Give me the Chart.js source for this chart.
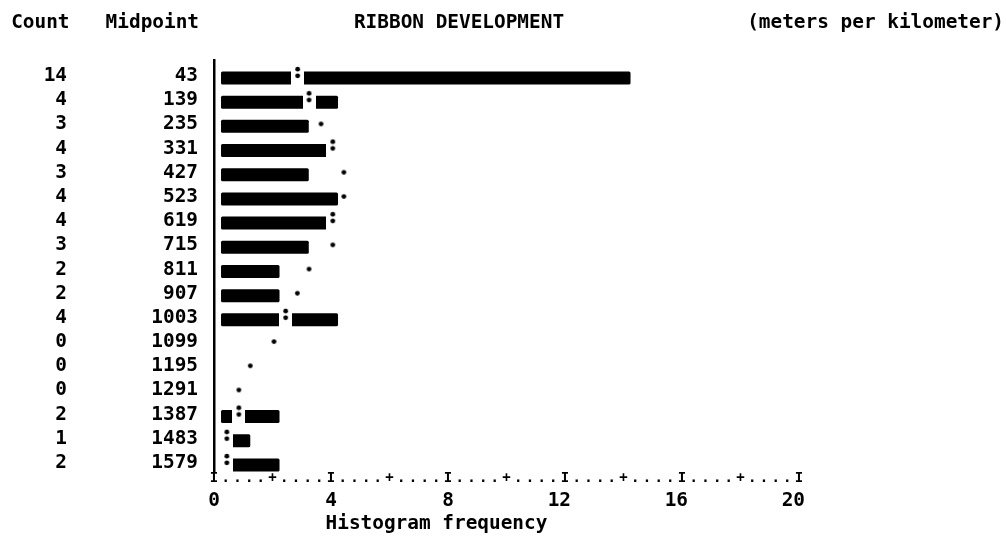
<!DOCTYPE html>
<html>
<head>
<meta charset="utf-8">
<title>Ribbon development histogram</title>
<script src="https://cdn.jsdelivr.net/npm/chart.js@4/dist/chart.umd.min.js"></script>
<style>
  html, body { margin: 0; padding: 0; background: #fff; }
  #wrap { width: 1006px; height: 541px; }
  canvas { display: block; }
</style>
</head>
<body>
<div id="wrap"><canvas id="chart" width="1006" height="541"></canvas></div>
<script>
// Histogram classes (midpoints, meters per kilometer) and their counts
const midpoints = ['43', '139', '235', '331', '427', '523', '619', '715', '811',
                   '907', '1003', '1099', '1195', '1291', '1387', '1483', '1579'];
const counts = [14, 4, 3, 4, 3, 4, 4, 3, 2, 2, 4, 0, 0, 0, 2, 1, 2];
// Expected frequency from the fitted normal curve, one per class
const normalCurve = [2.86, 3.25, 3.66, 4.06, 4.44, 4.44, 4.06, 4.06, 3.25,
                     2.85, 2.45, 2.05, 1.24, 0.85, 0.85, 0.44, 0.44];

const chartTitle = 'RIBBON DEVELOPMENT';
const unitsLabel = '(meters per kilometer)';
const countHeader = 'Count';
const midpointHeader = 'Midpoint';
const xTitle = 'Histogram frequency';

const X_MAX = 20;        // frequency axis range
const FREQ_STEP = 4;     // numbered tick spacing
const COLUMN = 0.4;      // one printer column on the frequency axis
const BAR_BASE = 0.24;   // bars begin one half column right of the axis
const ROW_MIN = -0.744;  // row axis extent (rows are 0 .. n-1, top to bottom)
const ROW_MAX = 16.29;

const FONT_FAMILY = "'DejaVu Sans Mono', 'Liberation Mono', monospace";
const FONT_SIZE = 19.4;

Chart.defaults.font = { family: FONT_FAMILY, size: FONT_SIZE, weight: 'bold', lineHeight: 1 };
Chart.defaults.color = '#000';

const rowIndex = midpoints.map((_, i) => i);

// Curve markers: ':' where the curve falls inside a bar (cut into the bar), '.' otherwise
function makeGlyph(kind) {
  const c = document.createElement('canvas');
  c.width = 13; c.height = 32;
  const g = c.getContext('2d');
  if (kind === ':') {
    g.fillStyle = '#fff';
    g.fillRect(0, 8, 13, 16);
  }
  g.fillStyle = '#000';
  const dot = (y) => { g.beginPath(); g.arc(6.5, y, 2.4, 0, Math.PI * 2); g.fill(); };
  if (kind === ':') { dot(7.2); dot(13.8); } else { dot(13.6); }
  return c;
}
const colonGlyph = makeGlyph(':');
const dotGlyph = makeGlyph('.');

// Column headings above the plot
const headerRow = {
  id: 'headerRow',
  afterDraw(chart) {
    const { ctx } = chart;
    const yMid = chart.scales.y;
    const yCnt = chart.scales.yCount;
    const rowY = 23.3;
    ctx.save();
    ctx.font = `bold ${FONT_SIZE}px ${FONT_FAMILY}`;
    ctx.fillStyle = '#000';
    ctx.textBaseline = 'middle';
    ctx.textAlign = 'right';
    ctx.fillText(countHeader, yCnt.right - yCnt.options.ticks.padding + 2.5, rowY);
    ctx.fillText(midpointHeader, yMid.right - yMid.options.ticks.padding + 1, rowY);
    ctx.textAlign = 'center';
    ctx.fillText(chartTitle, 459, rowY);
    ctx.textAlign = 'right';
    ctx.fillText(unitsLabel, 1004, rowY);
    ctx.restore();
  }
};

const rowTicks = (s) => { s.ticks = rowIndex.map(v => ({ value: v })); };

new Chart(document.getElementById('chart'), {
  type: 'bar',
  plugins: [headerRow],
  data: {
    datasets: [
      {
        type: 'bar',
        data: counts.map((c, i) => ({ x: [BAR_BASE, BAR_BASE + c], y: i })),
        backgroundColor: '#000',
        borderWidth: 0,
        inflateAmount: 0,
        borderRadius: (ctx) => (counts[ctx.dataIndex] > 0 ? 1.5 : 0),
        borderSkipped: false,
        barThickness: 13,
        order: 2,
        xAxisID: 'x',
        yAxisID: 'y'
      },
      {
        type: 'line',
        indexAxis: 'y',
        data: normalCurve.map((v, i) => ({ x: v, y: i })),
        showLine: false,
        pointRadius: 3,
        pointStyle: (ctx) => normalCurve[ctx.dataIndex] < BAR_BASE + counts[ctx.dataIndex] ? colonGlyph : dotGlyph,
        order: 1,
        xAxisID: 'x',
        yAxisID: 'y'
      }
    ]
  },
  options: {
    indexAxis: 'y',
    responsive: false,
    animation: false,
    events: [],
    layout: { padding: { left: 0, right: 207, top: 60, bottom: 7 } },
    plugins: { legend: { display: false }, tooltip: { enabled: false }, title: { display: false } },
    scales: {
      // printed axis line: I at every 4, + at every 2, dots between columns
      x: {
        type: 'linear', position: 'bottom', weight: 0, min: 0, max: X_MAX, offset: false,
        grid: { display: false, drawTicks: false },
        border: { display: false },
        ticks: {
          stepSize: COLUMN, autoSkip: false, maxRotation: 0, minRotation: 0, padding: -0.5,
          font: { size: 14 },
          callback: (v, i) => (i % 10 === 0 ? 'I' : (i % 5 === 0 ? '+' : '.'))
        },
        afterFit: (s) => { s.height = 14; }
      },
      xFreq: {
        type: 'linear', position: 'bottom', weight: 1, min: 0, max: X_MAX, offset: false,
        grid: { display: false, drawTicks: false },
        border: { display: false },
        ticks: { stepSize: FREQ_STEP, autoSkip: false, maxRotation: 0, minRotation: 0,
                 align: 'end', labelOffset: 6, padding: 5.6 },
        title: { display: true, text: xTitle + ' '.repeat(12), padding: { top: 0, bottom: 0 } },
        afterFit: (s) => { s.height = 48; }
      },
      y: {
        type: 'linear', position: 'left', weight: 0, reverse: true, offset: false,
        min: ROW_MIN, max: ROW_MAX,
        grid: { display: false, drawTicks: false, offset: false },
        border: { display: true, color: '#000', width: 2.5 },
        afterBuildTicks: rowTicks,
        ticks: { padding: 16, labelOffset: -2, autoSkip: false, callback: (v) => midpoints[v] },
        afterFit: (s) => { s.width = 144; }
      },
      yCount: {
        type: 'linear', position: 'left', weight: 1, reverse: true, offset: false,
        min: ROW_MIN, max: ROW_MAX,
        grid: { display: false, drawTicks: false, offset: false },
        border: { display: false },
        afterBuildTicks: rowTicks,
        ticks: { padding: 3, labelOffset: -2, autoSkip: false, callback: (v) => String(counts[v]) },
        afterFit: (s) => { s.width = 70; }
      }
    }
  }
});
</script>
</body>
</html>
